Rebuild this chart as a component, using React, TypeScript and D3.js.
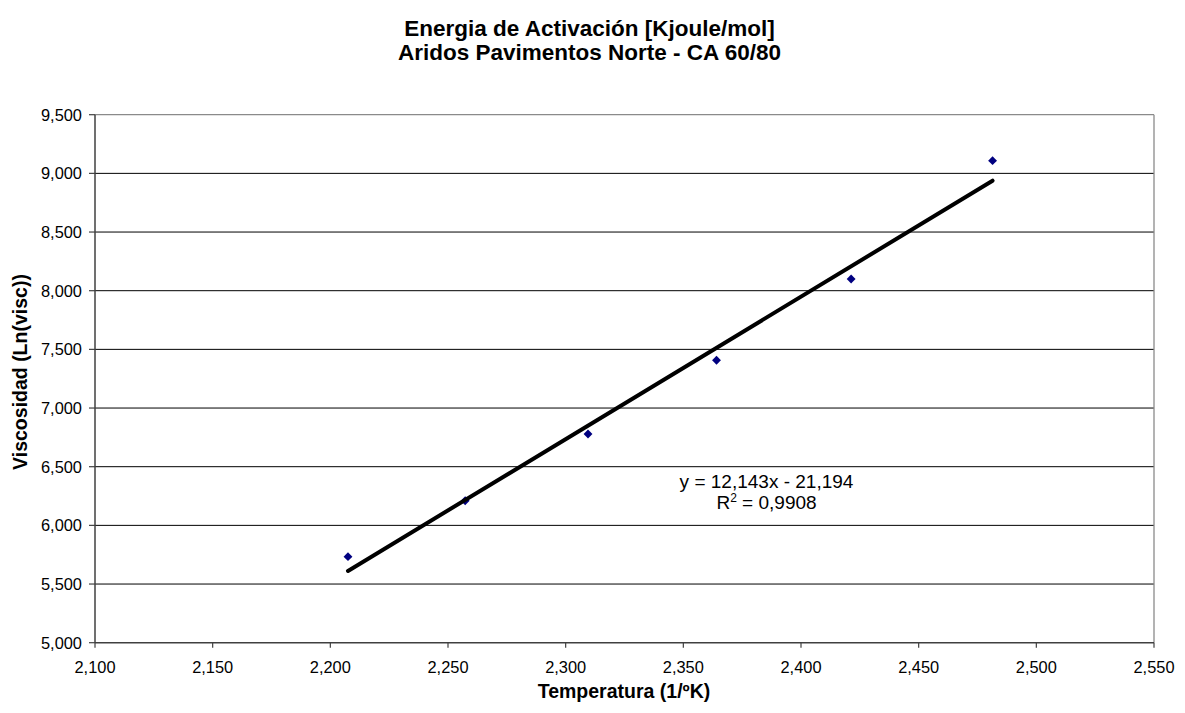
import React from "react";
import * as d3 from "d3";

const temperaturaX = [2.2075, 2.2573, 2.3095, 2.3641, 2.4213, 2.4814];
const viscosidadY = [5.733, 6.21, 6.779, 7.407, 8.1, 9.108];
const xTicks = [2.1, 2.15, 2.2, 2.25, 2.3, 2.35, 2.4, 2.45, 2.5, 2.55];
const yTicks = [5, 5.5, 6, 6.5, 7, 7.5, 8, 8.5, 9, 9.5];
const trendSlope = 12.143;
const trendIntercept = -21.194;
const titleLines = ["Energia de Activación [Kjoule/mol]", "Aridos Pavimentos Norte - CA 60/80"];
const eqLine = "y = 12,143x - 21,194";
const r2Value = "0,9908";

const W = 1185;
const H = 713;
const L = 95, R = 1154, T = 114.7, B = 642.7;

function label(v: number) {
  return v.toFixed(3).replace(".", ",");
}

export default function App() {
  const x = d3.scaleLinear().domain([2.1, 2.55]).range([L, R]);
  const y = d3.scaleLinear().domain([5, 9.5]).range([B, T]);
  const font = "Arial, 'Liberation Sans', Helvetica, sans-serif";
  const xMin = d3.min(temperaturaX)!;
  const xMax = d3.max(temperaturaX)!;
  const trend = d3.line<number>().x((d) => x(d)).y((d) => y(trendSlope * d + trendIntercept));
  const diamond = d3.symbol().type(d3.symbolDiamond2).size(50);
  return (
    <svg width={W} height={H} style={{ position: "absolute", left: 0, top: 0, background: "#fff" }} fontFamily={font}>
      <rect x={0} y={0} width={W} height={H} fill="#fff" />
      {titleLines.map((t, i) => (
        <text key={t} x={589.5} y={36 + i * 23.5} textAnchor="middle" fontSize={22.5} fontWeight="bold" fill="#000">
          {t}
        </text>
      ))}
      {yTicks.slice(1, -1).map((v) => (
        <line key={v} x1={L} x2={R} y1={y(v)} y2={y(v)} stroke="#000" strokeWidth={1} />
      ))}
      <line x1={L} x2={R} y1={T} y2={T} stroke="#8a8a8a" strokeWidth={1.3} />
      <line x1={R} x2={R} y1={T} y2={B} stroke="#8a8a8a" strokeWidth={1.3} />
      <line x1={L} x2={L} y1={T} y2={B} stroke="#404040" strokeWidth={1.5} />
      <line x1={L} x2={R} y1={B} y2={B} stroke="#404040" strokeWidth={1.5} />
      {yTicks.map((v) => (
        <g key={v}>
          <line x1={L - 6} x2={L} y1={y(v)} y2={y(v)} stroke="#404040" strokeWidth={1.2} />
          <text x={82} y={y(v)} dy="0.36em" textAnchor="end" fontSize={16.4} fill="#000">
            {label(v)}
          </text>
        </g>
      ))}
      {xTicks.map((v) => (
        <g key={v}>
          <line x1={x(v)} x2={x(v)} y1={B} y2={B + 5} stroke="#404040" strokeWidth={1.2} />
          <text x={x(v)} y={673} textAnchor="middle" fontSize={16.4} fill="#000">
            {label(v)}
          </text>
        </g>
      ))}
      <text x={624} y={698} textAnchor="middle" fontSize={19.5} fontWeight="bold" fill="#000">
        Temperatura (1/ºK)
      </text>
      <text transform={`translate(27,372) rotate(-90)`} textAnchor="middle" fontSize={19.5} fontWeight="bold" fill="#000">
        Viscosidad (Ln(visc))
      </text>
      {temperaturaX.map((xv, i) => (
        <path key={i} d={diamond()!} transform={`translate(${x(xv)},${y(viscosidadY[i])})`} fill="#000080" />
      ))}
      <path d={trend([xMin, xMax])!} stroke="#000" strokeWidth={4} fill="none" strokeLinecap="round" />
      <text x={766.5} y={488} textAnchor="middle" fontSize={19} fill="#000">
        {eqLine}
      </text>
      <text x={766.5} y={509} textAnchor="middle" fontSize={19} fill="#000">
        R<tspan dy={-7} fontSize={12}>2</tspan>
        <tspan dy={7}> = {r2Value}</tspan>
      </text>
    </svg>
  );
}
